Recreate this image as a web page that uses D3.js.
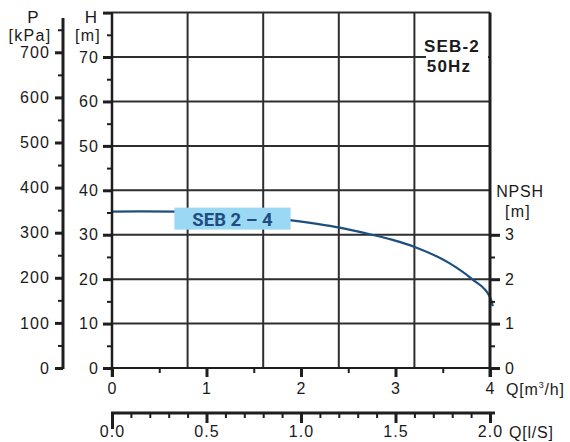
<!DOCTYPE html>
<html><head><meta charset="utf-8">
<script src="https://cdn.jsdelivr.net/npm/d3@7"></script>
<style>
html,body{margin:0;padding:0;background:#fff;}
svg{display:block;font-family:"Liberation Sans",Arial,sans-serif;}
text{fill:#1a1a1a;}
</style></head><body>
<div id="chart"></div>
<script>
// ---- data ----
const flowQ = [0, 0.3, 0.67, 1.0, 1.5, 1.88, 2.41, 2.73, 2.96, 3.21, 3.57, 3.81, 4.0, 4.03];
const headH = [35.2, 35.25, 35.2, 35.0, 34.2, 33.3, 31.6, 30.1, 28.9, 27.2, 23.6, 20.0, 16.0, 13.9];
const hTicks = [0, 10, 20, 30, 40, 50, 60, 70];
const pTicks = [0, 100, 200, 300, 400, 500, 600, 700];
const npshTicks = [0, 1, 2, 3];
const qTicks = [0, 1, 2, 3, 4];
const lsTicks = [0, 0.5, 1.0, 1.5, 2.0];
const gridQ = [0.8, 1.6, 2.4, 3.2];
const gridH = [10, 20, 30, 40, 50, 60, 70];
const curveLabel = "SEB 2 – 4";
const titleLines = ["SEB-2", "50Hz"];

const W = 570, H = 442;
const svg = d3.select("#chart").append("svg").attr("width", W).attr("height", H);

const x = d3.scaleLinear([0, 4], [112, 490]);
const yH = d3.scaleLinear([0, 80], [368, 12.6]);
const yP = d3.scaleLinear([0, 700], [368, 52.3]);
const yN = d3.scaleLinear([0, 3], [368, 234.8]);
const xL = d3.scaleLinear([0, 2], [112, 490]);

const ink = "#1e1e1e";
const gridCol = "#2e2e2e";
const intFmt = d3.format("d");

// grid
const g = svg.append("g");
g.selectAll(".gv").data(gridQ).join("line")
  .attr("x1", d => x(d)).attr("x2", d => x(d)).attr("y1", yH(80)).attr("y2", yH(0))
  .attr("stroke", gridCol).attr("stroke-width", 2);
g.selectAll(".gh").data(gridH).join("line")
  .attr("x1", x(0)).attr("x2", x(4)).attr("y1", d => yH(d)).attr("y2", d => yH(d))
  .attr("stroke", gridCol).attr("stroke-width", 2);
g.append("line").attr("x1", x(0)).attr("x2", x(4)).attr("y1", yH(80)).attr("y2", yH(80))
  .attr("stroke", gridCol).attr("stroke-width", 2);
g.append("line").attr("x1", x(0)).attr("x2", x(4)).attr("y1", yH(0)).attr("y2", yH(0))
  .attr("stroke", ink).attr("stroke-width", 2);

// title box (covers gridline)
svg.append("rect").attr("x", 426).attr("y", 30).attr("width", 62).attr("height", 50).attr("fill", "#fff");
svg.append("text").attr("x", 452).attr("y", 52).attr("text-anchor", "middle")
  .attr("font-size", 17).attr("font-weight", "bold").attr("letter-spacing", 1.2).text(titleLines[0]);
svg.append("text").attr("x", 449).attr("y", 72).attr("text-anchor", "middle")
  .attr("font-size", 17).attr("font-weight", "bold").attr("letter-spacing", 1.2).text(titleLines[1]);

// curve
const line = d3.line().x((d, i) => x(flowQ[i])).y(d => yH(d)).curve(d3.curveMonotoneX);
svg.append("path").datum(headH).attr("d", line).attr("fill", "none")
  .attr("stroke", "#1d4f7e").attr("stroke-width", 2.2);

// curve label
svg.append("rect").attr("x", x(0.66)).attr("y", yH(36.1)).attr("width", x(1.89) - x(0.66)).attr("height", 22)
  .attr("fill", "#9bd8f3");
svg.append("text").attr("x", (x(0.66) + x(1.89)) / 2).attr("y", yH(36.1) + 18)
  .attr("text-anchor", "middle").attr("font-family", "Roboto, 'Open Sans', sans-serif")
  .attr("font-weight", "bold").attr("font-size", 18.5).style("fill", "#204d80").text(curveLabel);

function styleAxis(sel, tw) {
  sel.select(".domain").remove();
  sel.selectAll(".tick line").attr("stroke", ink).attr("stroke-width", tw);
  sel.selectAll(".tick text").attr("font-size", 16).attr("letter-spacing", 1.1)
    .style("fill", "#1a1a1a").attr("font-family", "'Liberation Sans', Arial, sans-serif");
}

// P axis
const pAxisX = 63;
svg.append("line").attr("x1", pAxisX).attr("x2", pAxisX).attr("y1", 18).attr("y2", 369).attr("stroke", ink).attr("stroke-width", 3);
const pMinor = svg.append("g").attr("transform", `translate(${pAxisX},0)`)
  .call(d3.axisLeft(yP).tickValues(d3.range(50, 751, 100)).tickSize(5).tickFormat(""));
styleAxis(pMinor, 2);
const pAx = svg.append("g").attr("transform", `translate(${pAxisX},0)`)
  .call(d3.axisLeft(yP).tickValues(pTicks).tickSize(8).tickPadding(5).tickFormat(intFmt));
styleAxis(pAx, 3);
svg.append("text").attr("x", 33).attr("y", 23).attr("text-anchor", "middle").attr("font-size", 17).text("P");
svg.append("text").attr("x", 30).attr("y", 41).attr("text-anchor", "middle").attr("font-size", 16).attr("letter-spacing", 1.3).text("[kPa]");

// H axis
svg.append("line").attr("x1", x(0)).attr("x2", x(0)).attr("y1", yH(80)).attr("y2", 377).attr("stroke", ink).attr("stroke-width", 2.5);
const hMinor = svg.append("g").attr("transform", `translate(${x(0)},0)`)
  .call(d3.axisLeft(yH).tickValues(d3.range(5, 80, 10)).tickSize(5).tickFormat(""));
styleAxis(hMinor, 2);
const hAx = svg.append("g").attr("transform", `translate(${x(0)},0)`)
  .call(d3.axisLeft(yH).tickValues(hTicks.concat([80])).tickSize(9).tickPadding(4)
    .tickFormat(d => d === 80 ? "" : intFmt(d)));
styleAxis(hAx, 3);
svg.append("text").attr("x", 91).attr("y", 23).attr("text-anchor", "middle").attr("font-size", 17).text("H");
svg.append("text").attr("x", 88).attr("y", 41).attr("text-anchor", "middle").attr("font-size", 16).attr("letter-spacing", 1.3).text("[m]");

// NPSH axis (right)
svg.append("line").attr("x1", x(4)).attr("x2", x(4)).attr("y1", yH(80)).attr("y2", 377).attr("stroke", ink).attr("stroke-width", 3);
const nMinor = svg.append("g").attr("transform", `translate(${x(4)},0)`)
  .call(d3.axisRight(yN).tickValues([0.5, 1.5, 2.5]).tickSize(5).tickFormat(""));
styleAxis(nMinor, 2);
const nAx = svg.append("g").attr("transform", `translate(${x(4)},0)`)
  .call(d3.axisRight(yN).tickValues(npshTicks).tickSize(10).tickPadding(5).tickFormat(intFmt));
styleAxis(nAx, 3);
svg.append("text").attr("x", 520).attr("y", 197).attr("text-anchor", "middle").attr("font-size", 16).attr("letter-spacing", 0.8).text("NPSH");
svg.append("text").attr("x", 518).attr("y", 217).attr("text-anchor", "middle").attr("font-size", 16).attr("letter-spacing", 1.3).text("[m]");

// Q m3/h axis
const qMinor = svg.append("g").attr("transform", `translate(0,${yH(0)})`)
  .call(d3.axisBottom(x).tickValues([0.5, 1.5, 2.5, 3.5]).tickSize(5).tickFormat(""));
styleAxis(qMinor, 2);
const qAx = svg.append("g").attr("transform", `translate(0,${yH(0)})`)
  .call(d3.axisBottom(x).tickValues(qTicks).tickSize(9).tickPadding(6).tickFormat(intFmt));
styleAxis(qAx, 3);
const qLab = svg.append("text").attr("x", 506).attr("y", 395).attr("font-size", 16).attr("letter-spacing", 0.8);
qLab.append("tspan").text("Q[m");
qLab.append("tspan").attr("font-size", 9).attr("dy", -7).text("3");
qLab.append("tspan").attr("dy", 7).text("/h]");

// Q l/s axis
const lsY = 413;
svg.append("line").attr("x1", xL(0) - 1).attr("x2", xL(2) + 5).attr("y1", lsY).attr("y2", lsY).attr("stroke", ink).attr("stroke-width", 3);
const lMinor = svg.append("g").attr("transform", `translate(0,${lsY})`)
  .call(d3.axisBottom(xL).tickValues(d3.range(1, 20).filter(i => i % 5 !== 0).map(i => i / 10)).tickSize(5).tickFormat(""));
styleAxis(lMinor, 2);
const lAx = svg.append("g").attr("transform", `translate(0,${lsY})`)
  .call(d3.axisBottom(xL).tickValues(lsTicks).tickSize(10).tickPadding(3).tickFormat(d3.format(".1f")));
styleAxis(lAx, 3);
// extend the 0.0 tick over its label
lAx.selectAll(".tick").filter(d => d === 0).select("line").attr("y2", 16).raise();
svg.append("text").attr("x", 509).attr("y", 438).attr("font-size", 16).attr("letter-spacing", 0.8).text("Q[l/S]");
</script>
</body></html>
